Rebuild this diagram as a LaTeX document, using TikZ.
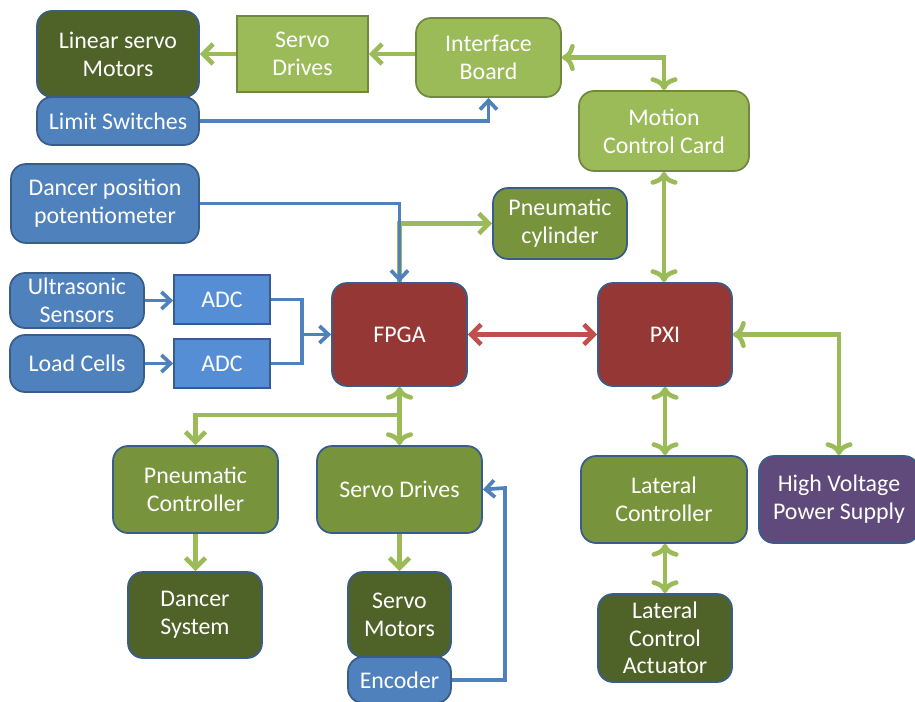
\documentclass[tikz,border=0pt]{standalone}
\usepackage{fontspec}
\setmainfont{Carlito}
\usetikzlibrary{arrows.meta}

\definecolor{lgreen}{HTML}{9BBB59}
\definecolor{lgreenline}{HTML}{71893F}
\definecolor{mgreen}{HTML}{77933C}
\definecolor{dolive}{HTML}{4F6228}
\definecolor{sblue}{HTML}{4F81BD}
\definecolor{adcblue}{HTML}{558ED5}
\definecolor{edgeblue}{HTML}{385D8A}
\definecolor{dred}{HTML}{953735}
\definecolor{lred}{HTML}{C0504D}
\definecolor{hvpurple}{HTML}{604A7B}

\begin{document}
\begin{tikzpicture}[x=0.02cm, y=-0.02cm,
    box/.style={rounded corners=0.3cm, line width=1pt, draw=edgeblue, text=white,
        align=center, inner sep=0pt, font=\fontsize{13.6}{15.8}\selectfont},
    lbox/.style={box, fill=lgreen, draw=lgreenline},
    mbox/.style={box, fill=mgreen},
    obox/.style={box, fill=dolive},
    bbox/.style={box, fill=sblue},
    rbox/.style={box, fill=dred},
    gline/.style={draw=lgreen, line width=2.6pt,
        arrows={-Straight Barb[length=0.2cm, width=0.4cm]}},
    bline/.style={draw=sblue, line width=2.1pt,
        arrows={-Straight Barb[length=0.18cm, width=0.34cm]}},
    rline/.style={draw=lred, line width=2.6pt,
        arrows={Straight Barb[length=0.2cm, width=0.4cm]-Straight Barb[length=0.2cm, width=0.4cm]}}]
    \useasboundingbox (0,0) rectangle (915,702);

    % top row
    \node[obox, minimum width=3.24cm, minimum height=1.72cm] (lsm) at (118,54) {Linear servo\\Motors};
    \node[lbox, rounded corners=0pt, minimum width=2.62cm, minimum height=1.52cm] (sdtop) at (302.5,54) {Servo\\Drives};
    \node[lbox, minimum width=2.9cm, minimum height=1.58cm] (ib) at (488.5,57.5) {Interface\\Board};
    \node[bbox, minimum width=3.24cm, minimum height=0.96cm] (ls) at (118,121) {Limit Switches};
    \node[lbox, minimum width=3.4cm, minimum height=1.6cm] (mcc) at (664,131) {Motion\\Control Card};

    % sensors
    \node[bbox, minimum width=3.76cm, minimum height=1.58cm] (dpp) at (105,203.5) {Dancer position\\potentiometer};
    \node[mbox, minimum width=2.68cm, minimum height=1.42cm] (pcyl) at (560,223.5) {Pneumatic\\cylinder};
    \node[bbox, minimum width=2.68cm, minimum height=1.1cm] (us) at (77,300.5) {Ultrasonic\\Sensors};
    \node[bbox, minimum width=2.68cm, minimum height=1.14cm] (lc) at (77,363.5) {Load Cells};
    \node[box, rounded corners=0pt, fill=adcblue, minimum width=1.92cm, minimum height=0.98cm] (adc1) at (222,299.5) {ADC};
    \node[box, rounded corners=0pt, fill=adcblue, minimum width=1.92cm, minimum height=0.98cm] (adc2) at (222,363.5) {ADC};

    % controllers
    \node[rbox, minimum width=2.7cm, minimum height=2.06cm] (fpga) at (399.5,334.5) {FPGA};
    \node[rbox, minimum width=2.68cm, minimum height=2.06cm] (pxi) at (665,334.5) {PXI};

    % bottom rows
    \node[mbox, minimum width=3.3cm, minimum height=1.74cm] (pctrl) at (195.5,489.5) {Pneumatic\\Controller};
    \node[mbox, minimum width=3.3cm, minimum height=1.74cm] (sdbot) at (399.5,489.5) {Servo Drives};
    \node[mbox, minimum width=3.32cm, minimum height=1.74cm] (latc) at (664,499.5) {Lateral\\Controller};
    \node[box, fill=hvpurple, minimum width=3.2cm, minimum height=1.74cm] (hv) at (839,499.5) {High Voltage\\Power Supply};
    \node[obox, minimum width=2.68cm, minimum height=1.72cm] (ds) at (195,615) {Dancer\\System};
    \node[obox, minimum width=2.06cm, minimum height=1.7cm] (sm) at (399.5,614.5) {Servo\\Motors};
    \node[bbox, minimum width=2.06cm, minimum height=0.92cm] (enc) at (399.5,680) {Encoder};
    \node[obox, minimum width=2.68cm, minimum height=1.76cm] (lca) at (665,638) {Lateral\\Control\\Actuator};

    % junctions
    \coordinate (j1) at (302,334.5);
    \coordinate (j2) at (399.5,415);
    \coordinate (j3) at (505,488);

    % connectors
    \draw[gline] (sdtop.east -| ib.west) -- (sdtop.east);
    \draw[gline] (sdtop.west) -- (lsm.east);
    \draw[bline] (ls.east) -| (ib.south);
    \draw[gline, <->] (ib.east) -| (mcc.north);
    \draw[gline, <->] (mcc.south) -- (mcc.south |- pxi.north);
    \draw[gline] (fpga.north) |- (pcyl.west);
    \draw[bline] (dpp.east) -| (fpga.north);
    \draw[bline] (us.east) -- (us.east -| adc1.west);
    \draw[bline] (lc.east) -- (adc2.west);
    \draw[bline, -] (adc1.east) -| (j1);
    \draw[bline] (adc2.east) -| (j1) -- (fpga.west);
    \draw[rline] (fpga.east) -- (pxi.west);
    \draw[gline, <->] (pxi.east) -| (hv.north);
    \draw[gline, <->] (pxi.south) -- (pxi.south |- latc.north);
    \draw[gline, <->] (latc.south -| lca.north) -- (lca.north);
    \draw[gline, <->] (fpga.south) -- (sdbot.north);
    \draw[gline] (j2) -| (pctrl.north);
    \draw[gline] (pctrl.south) -- (pctrl.south |- ds.north);
    \draw[gline] (sdbot.south) -- (sm.north);
    \draw[bline] (enc.east) -| (j3) -- (sdbot.east);
\end{tikzpicture}
\end{document}
